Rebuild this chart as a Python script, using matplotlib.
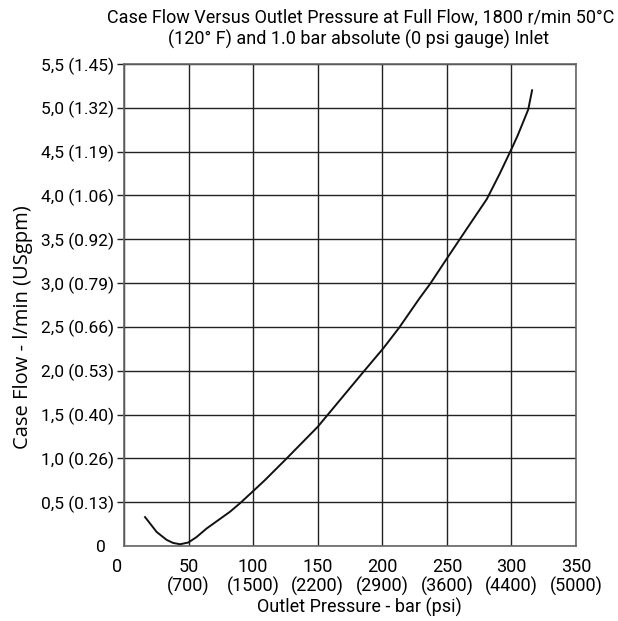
import matplotlib.pyplot as plt
from matplotlib.transforms import ScaledTranslation

plt.rcParams['font.family'] = ['Roboto', 'DejaVu Sans']

# values
pressure_bar = [16.3, 25.3, 33, 38, 43.4, 49.8, 56, 64, 82, 90, 101, 109, 126, 150,
                185, 201, 213, 229, 237, 250, 265, 281, 291, 301, 305, 313, 316]
case_flow = [0.33, 0.16, 0.07, 0.035, 0.02, 0.04, 0.1, 0.2, 0.39, 0.49, 0.64, 0.75, 1.0,
             1.36, 1.98, 2.26, 2.49, 2.83, 2.99, 3.28, 3.61, 3.96, 4.25, 4.56, 4.69, 4.98,
             5.20]

x_ticks = [0, 50, 100, 150, 200, 250, 300, 350]
x_labels = ['0', '50\n(700)', '100\n(1500)', '150\n(2200)', '200\n(2900)',
            '250\n(3600)', '300\n(4400)', '350\n(5000)']
y_ticks = [0, 0.5, 1.0, 1.5, 2.0, 2.5, 3.0, 3.5, 4.0, 4.5, 5.0, 5.5]
y_labels = ['0', '0,5 (0.13)', '1,0 (0.26)', '1,5 (0.40)', '2,0 (0.53)', '2,5 (0.66)',
            '3,0 (0.79)', '3,5 (0.92)', '4,0 (1.06)', '4,5 (1.19)', '5,0 (1.32)',
            '5,5 (1.45)']

W, H = 618, 621
fig = plt.figure(figsize=(W / 100, H / 100), dpi=100)
ax = fig.add_axes([124 / W, 1 - 546 / H, 452 / W, 482 / H])

ax.plot(pressure_bar, case_flow, color='#111111', lw=1.4, zorder=3)

ax.set_xlim(0, 350)
ax.set_ylim(0, 5.5)
ax.set_xticks(x_ticks)
ax.set_xticklabels(x_labels, fontsize=13, linespacing=1.0)
ax.set_yticks(y_ticks)
ax.set_yticklabels(y_labels, fontsize=12.5)
ax.tick_params(axis='x', length=0, pad=9)
ax.tick_params(axis='y', length=5, width=1, color='#222222', pad=2)
ax.yaxis.get_major_ticks()[0].tick1line.set_visible(False)
ax.grid(True, color='#222222', lw=1)
for s in ax.spines.values():
    s.set_color('#666666')
    s.set_linewidth(1.2)

# the "0" labels sit a little left of the others
ax.get_xticklabels()[0].set_transform(
    ax.get_xaxis_text1_transform(9)[0] + ScaledTranslation(-7 / 100, 0, fig.dpi_scale_trans))
ax.get_yticklabels()[0].set_transform(
    ax.get_yaxis_text1_transform(2)[0] + ScaledTranslation(-15 / 100, 0, fig.dpi_scale_trans))

fig.text(359 / W, 1 - 607 / H, 'Outlet Pressure - bar (psi)', fontsize=13,
         ha='center', va='center')
fig.text(23 / W, 1 - 327 / H, 'Case Flow - l/min (USgpm)', fontsize=14.5,
         family=['Open Sans', 'DejaVu Sans'], rotation=90, ha='center', va='center')
fig.text(361 / W, 1 - 22 / H,
         'Case Flow Versus Outlet Pressure at Full Flow, 1800 r/min 50°C',
         fontsize=13, ha='center', va='baseline')
fig.text(359 / W, 1 - 45 / H,
         '(120° F) and 1.0 bar absolute (0 psi gauge) Inlet',
         fontsize=13, ha='center', va='baseline')

fig.savefig('out.png', dpi=100)
